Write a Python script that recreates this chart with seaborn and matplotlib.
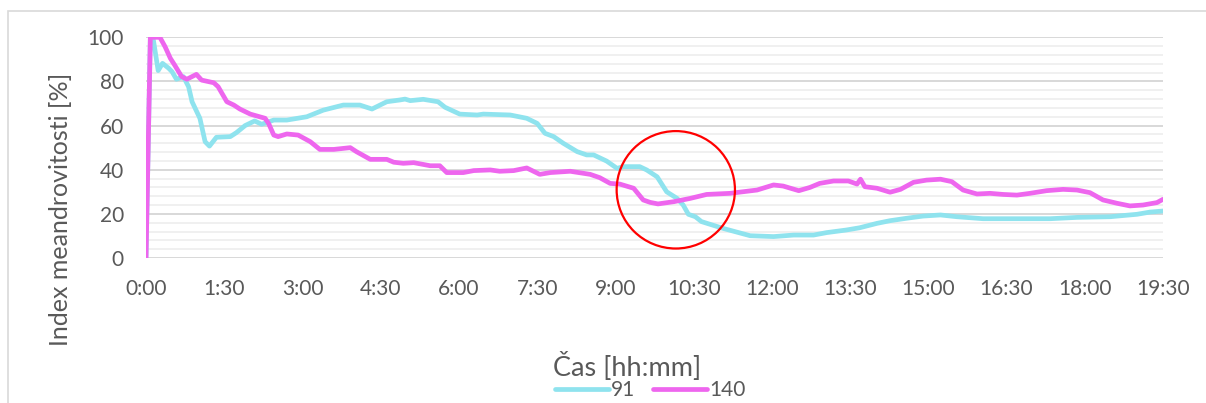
import numpy as np
import pandas as pd
import matplotlib
matplotlib.use("Agg")
import matplotlib.pyplot as plt
from matplotlib.patches import Ellipse, Rectangle
from matplotlib.lines import Line2D
import seaborn as sns

# Meandering index over time (minutes since start) for two tracks
t_91 = [0, 5, 8, 14, 19, 26, 30, 35, 43, 49, 53, 62, 68, 73, 81, 97, 104, 114, 125, 133,
        147, 162, 185, 204, 227, 246, 260, 277, 292, 298, 304, 319, 336, 344, 361, 381,
        388, 419, 438, 450, 459, 469, 480, 496, 507, 515, 530, 542, 549, 568, 576, 588,
        599, 611, 618, 624, 632, 639, 664, 695, 722, 745, 768, 783, 806, 821, 841, 856,
        875, 894, 914, 933, 963, 1002, 1040, 1071, 1109, 1140, 1155, 1170]
v_91 = [0, 100, 100, 84.9, 88.2, 86.0, 84.4, 81.0, 82.2, 77.6, 70.8, 63.3, 52.7, 50.7,
        54.7, 55.0, 56.8, 60.0, 62.1, 60.6, 62.5, 62.5, 64.0, 67.0, 69.3, 69.3, 67.5,
        70.8, 71.6, 72.0, 71.3, 71.9, 70.8, 68.3, 65.2, 64.8, 65.2, 64.8, 63.3, 61.0,
        56.5, 55.0, 52.0, 48.2, 46.7, 46.7, 43.9, 40.6, 41.4, 41.4, 39.9, 36.8, 30.0,
        27.0, 24.0, 19.8, 18.7, 16.5, 13.4, 10.1, 9.7, 10.4, 10.4, 11.5, 12.7, 13.7,
        15.7, 16.9, 18.0, 19.0, 19.5, 18.7, 17.8, 17.8, 17.8, 18.4, 18.7, 19.8, 20.8, 21.3]

t_140 = [0, 5, 16, 22, 28, 33, 41, 47, 58, 64, 78, 83, 93, 101, 108, 120, 137, 141,
         147, 152, 162, 175, 189, 200, 216, 235, 242, 258, 277, 285, 296, 308, 327,
         338, 346, 365, 377, 396, 407, 423, 438, 453, 465, 488, 511, 522, 534, 545,
         561, 572, 580, 589, 607, 626, 645, 672, 703, 722, 733, 751, 764, 775, 791,
         808, 818, 822, 827, 841, 856, 868, 883, 898, 914, 927, 940, 956, 971, 986,
         1002, 1017, 1036, 1055, 1071, 1086, 1101, 1117, 1132, 1147, 1163, 1170]
v_140 = [0, 100, 100, 95.7, 90.5, 87.4, 82.2, 81.0, 83.2, 80.6, 79.4, 77.6, 70.8, 69.3,
         67.5, 65.2, 63.3, 61.0, 55.7, 55.0, 56.2, 55.7, 52.7, 49.2, 49.2, 50.0, 48.2,
         44.7, 44.7, 43.4, 42.9, 43.2, 41.8, 41.8, 38.7, 38.7, 39.6, 39.9, 39.3, 39.6,
         40.8, 37.9, 38.7, 39.3, 37.9, 36.4, 33.8, 33.5, 31.6, 26.3, 25.2, 24.5, 25.5,
         27.0, 28.8, 29.3, 30.8, 33.1, 32.6, 30.5, 32.0, 33.8, 34.9, 34.9, 33.5, 35.7,
         32.3, 31.6, 29.8, 31.1, 34.3, 35.3, 35.7, 34.6, 30.8, 29.0, 29.3, 28.8, 28.5,
         29.3, 30.5, 31.1, 30.8, 29.6, 26.3, 24.8, 23.6, 24.0, 25.1, 26.6]

series_names = ["91", "140"]
series_colors = ["#8fe3ee", "#ee66ee"]
x_ticks_min = list(range(0, 1171, 90))
x_tick_labels = [f"{m // 60}:{m % 60:02d}" for m in x_ticks_min]
y_ticks = [0, 20, 40, 60, 80, 100]

df = pd.concat([
    pd.DataFrame({"t": t_91, "v": v_91, "série": "91"}),
    pd.DataFrame({"t": t_140, "v": v_140, "série": "140"}),
])

sns.set_style("white")
plt.rcParams["font.family"] = ["Lato", "DejaVu Sans"]

W, H = 1206, 403
fig = plt.figure(figsize=(W / 100, H / 100), dpi=100)
ax = fig.add_axes([146 / W, (H - 258) / H, (1163 - 146) / W, (258 - 37.3) / H])

# chart frame
fig.patches.append(Rectangle((8 / W, -0.2), 1.2, (H - 11) / H + 0.2,
                             transform=fig.transFigure, fill=False,
                             edgecolor="#d9d9d9", linewidth=1.2, zorder=0))

# minor and major horizontal gridlines
for y in np.arange(0, 101, 4):
    if y % 20:
        ax.axhline(y, color="#efefef", linewidth=1.3, zorder=0)
for y in y_ticks:
    ax.axhline(y, color="#d6d6d6", linewidth=1.3, zorder=0.5)

sns.lineplot(data=df, x="t", y="v", hue="série", hue_order=series_names,
             palette=series_colors, linewidth=3.4, sort=False, estimator=None,
             legend=False, ax=ax, zorder=3)
ax.get_lines()[-1].set_zorder(4)

ax.set_xlim(0, 1170)
ax.set_ylim(0, 100)
ax.set_xticks(x_ticks_min)
ax.set_xticklabels(x_tick_labels)
ax.set_yticks(y_ticks)
ax.tick_params(axis="both", length=0, labelsize=15, colors="#595959")
ax.tick_params(axis="x", pad=15)
ax.tick_params(axis="y", pad=16)
for s in ax.spines.values():
    s.set_visible(False)
ax.set_xlabel("")
ax.set_ylabel("")
ax.patch.set_alpha(0)

# highlight of the crossing region
ax.add_patch(Ellipse((609.5, 30.9), 136.1, 53.2, fill=False,
                     edgecolor="#ff0000", linewidth=1.6, zorder=5,
                     clip_on=False))

fig.text(61 / W, 1 - 209 / H, "Index meandrovitosti [%]", rotation=90,
         ha="center", va="center", fontsize=18, color="#595959")
fig.text(627 / W, 1 - 367 / H, "Čas [hh:mm]", ha="center", va="center",
         fontsize=19.5, color="#595959")

handles = [Line2D([], [], color=c, linewidth=3.4, solid_capstyle="round")
           for c in series_colors]
fig.legend(handles, series_names, loc="center", bbox_to_anchor=(650 / W, 1 - 390 / H),
           ncol=2, frameon=False, fontsize=15, handlelength=2.6,
           handletextpad=0.1, columnspacing=0.85, labelcolor="#595959",
           borderpad=0, borderaxespad=0)

fig.savefig("out.png", dpi=100)
